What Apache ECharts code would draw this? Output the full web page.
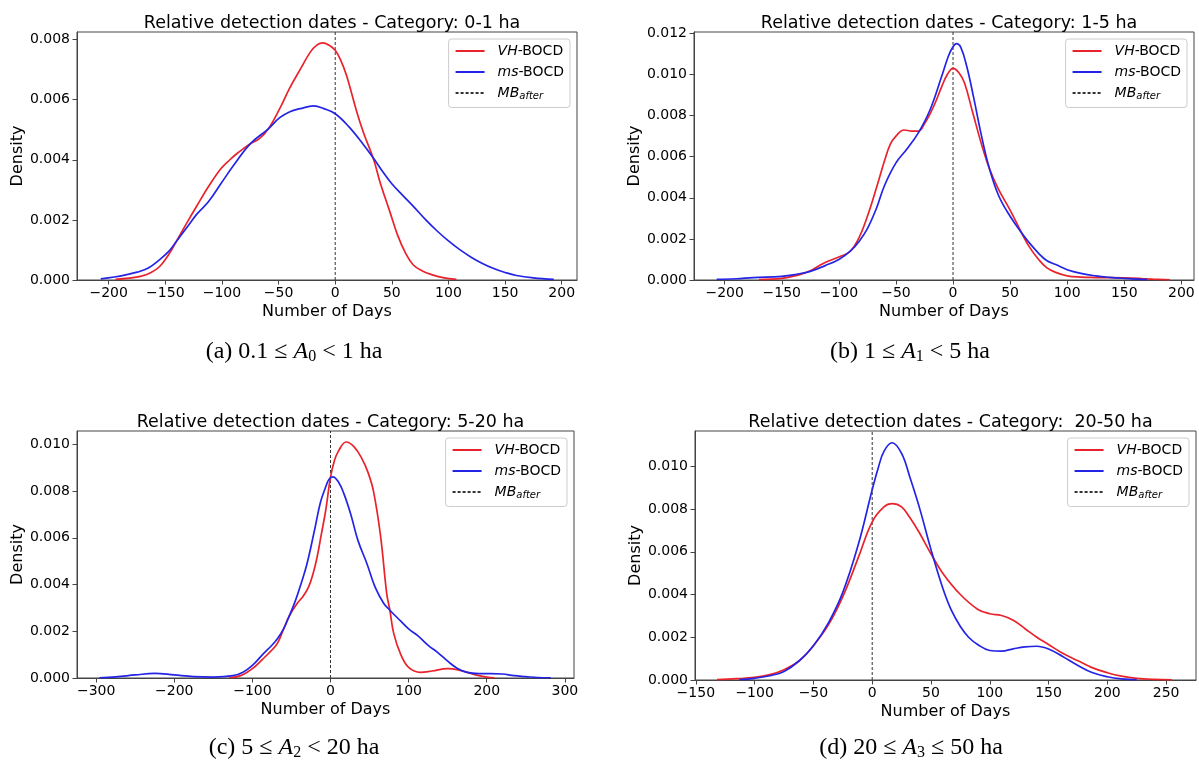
<!DOCTYPE html>
<html><head><meta charset="utf-8">
<script src="https://cdn.jsdelivr.net/npm/echarts@6/dist/echarts.min.js"></script>
<style>html,body{margin:0;padding:0;background:#fff}#c{width:1199px;height:760px}</style>
</head><body><div id="c"></div>
<script>
// ---------- DATA ----------
const titles = [
  'Relative detection dates - Category: 0-1 ha',
  'Relative detection dates - Category: 1-5 ha',
  'Relative detection dates - Category: 5-20 ha',
  'Relative detection dates - Category:  20-50 ha'
];
const captions = [
  '(a) 0.1 ≤ {i|A}{sub|0} < 1 ha',
  '(b) 1 ≤ {i|A}{sub|1} < 5 ha',
  '(c) 5 ≤ {i|A}{sub|2} < 20 ha',
  '(d) 20 ≤ {i|A}{sub|3} ≤ 50 ha'
];
const seriesNames = ['VH-BOCD', 'ms-BOCD', 'MB_after'];
const xLabel = 'Number of Days';
const yLabel = 'Density';

// x ticks
const xTicksA = [-200,-150,-100,-50,0,50,100,150,200];
const xTicksB = [-200,-150,-100,-50,0,50,100,150,200];
const xTicksC = [-300,-200,-100,0,100,200,300];
const xTicksD = [-150,-100,-50,0,50,100,150,200,250];
// y ticks
const yTicksA = [0,0.002,0.004,0.006,0.008];
const yTicksB = [0,0.002,0.004,0.006,0.008,0.010,0.012];
const yTicksC = [0,0.002,0.004,0.006,0.008,0.010];
const yTicksD = [0,0.002,0.004,0.006,0.008,0.010];

// Panel (a) 0-1 ha
const vhA = [[-194,0.00002],[-182,0.00006],[-172,0.00012],[-163,0.00024],[-155,0.00045],[-147,0.00085],[-140,0.0013],[-131,0.0019],[-122,0.00248],[-112,0.0031],[-101,0.0037],[-93,0.0040],[-87,0.0042],[-80,0.0044],[-75,0.00453],[-67,0.0047],[-59,0.00503],[-49,0.0057],[-40,0.0064],[-31,0.0070],[-22,0.00758],[-16,0.00782],[-11,0.00789],[-5,0.0078],[0,0.00764],[5,0.0073],[10,0.0068],[19,0.0056],[25,0.0049],[34,0.0040],[40,0.0032],[48,0.0023],[55,0.0015],[62,0.0009],[69,0.0005],[77,0.0003],[85,0.00018],[95,0.00008],[107,0.00002]];
const msA = [[-207,0.00004],[-195,0.00010],[-185,0.00017],[-175,0.00026],[-165,0.00040],[-155,0.00068],[-147,0.00095],[-140,0.0013],[-130,0.0018],[-122,0.0022],[-112,0.0026],[-101,0.0032],[-90,0.0038],[-75,0.00453],[-59,0.00503],[-49,0.0054],[-40,0.0056],[-31,0.0057],[-19,0.00579],[-10,0.0057],[0,0.00553],[12,0.0051],[25,0.0045],[34,0.00404],[42,0.0036],[50,0.0032],[60,0.0028],[69,0.00245],[80,0.0020],[90,0.00163],[100,0.0013],[110,0.00101],[120,0.00076],[130,0.00055],[140,0.00038],[150,0.00025],[160,0.00015],[175,0.00007],[193,0.00002]];

// Panel (b) 1-5 ha
const vhB = [[-170,0.00002],[-150,0.00008],[-135,0.00025],[-125,0.00045],[-117,0.0007],[-110,0.0009],[-100,0.00112],[-90,0.00140],[-82,0.0021],[-75,0.0031],[-67,0.0045],[-60,0.0058],[-55,0.0066],[-50,0.0070],[-43,0.0073],[-36,0.00725],[-30,0.00725],[-25,0.0076],[-20,0.0081],[-15,0.0087],[-10,0.0094],[-5,0.0100],[0,0.0103],[5,0.0101],[10,0.0096],[17,0.0082],[25,0.0066],[32,0.0054],[40,0.0044],[50,0.0034],[60,0.0023],[67,0.0016],[75,0.0010],[82,0.0006],[90,0.00037],[100,0.00020],[112,0.00014],[125,0.00012],[150,0.00010],[165,0.00007],[175,0.00004],[190,0.00001]];
const msB = [[-207,0.00003],[-190,0.00006],[-175,0.00012],[-150,0.00018],[-137,0.00028],[-125,0.00042],[-112,0.0007],[-100,0.00100],[-90,0.0014],[-82,0.0019],[-75,0.0025],[-67,0.0035],[-60,0.0046],[-50,0.0057],[-40,0.0064],[-30,0.0072],[-20,0.0083],[-10,0.0099],[-4,0.0109],[0,0.01135],[3,0.0115],[7,0.0113],[12,0.0104],[18,0.0089],[25,0.0070],[32,0.0054],[40,0.0041],[50,0.0031],[60,0.0023],[67,0.0018],[75,0.0013],[82,0.00095],[90,0.00075],[100,0.00050],[112,0.00032],[125,0.00020],[137,0.00013],[150,0.00008],[170,0.00002]];

// Panel (c) 5-20 ha
const vhC = [[-130,0.00001],[-115,0.0001],[-100,0.0004],[-87,0.0008],[-75,0.0012],[-68,0.00148],[-60,0.0021],[-53,0.00264],[-43,0.00318],[-35,0.0035],[-28,0.0039],[-22,0.0045],[-17,0.0052],[-12,0.0061],[-6,0.0072],[0,0.0086],[5,0.0093],[10,0.0097],[20,0.0101],[30,0.0099],[40,0.0094],[48,0.0088],[55,0.0080],[64,0.0061],[72,0.0036],[76,0.0029],[81,0.0019],[90,0.0010],[100,0.00045],[115,0.00024],[130,0.00030],[150,0.00040],[162,0.00036],[175,0.00024],[190,0.00010],[200,0.00004],[210,0.00001]];
const msC = [[-296,0.00001],[-275,0.00005],[-250,0.00013],[-225,0.00020],[-200,0.00013],[-175,0.00006],[-150,0.00004],[-125,0.00010],[-112,0.00025],[-100,0.00054],[-87,0.0010],[-75,0.0014],[-68,0.00168],[-60,0.0021],[-53,0.00264],[-45,0.0033],[-38,0.0040],[-30,0.0049],[-20,0.0064],[-13,0.0075],[-7,0.0081],[-2,0.0085],[3,0.00861],[10,0.0084],[17,0.0079],[26,0.0070],[35,0.0059],[47,0.00486],[57,0.0039],[68,0.0032],[76,0.0029],[90,0.00243],[100,0.0021],[112,0.0018],[125,0.0014],[137,0.0011],[150,0.00072],[162,0.00042],[175,0.00024],[190,0.00019],[205,0.00019],[220,0.00017],[235,0.00010],[250,0.00006],[265,0.00002],[282,0.00001]];

// Panel (d) 20-50 ha
const vhD = [[-132,0.00002],[-115,0.00006],[-100,0.00012],[-87,0.00025],[-75,0.00048],[-62,0.0009],[-50,0.0016],[-37,0.0026],[-25,0.0039],[-12,0.0057],[0,0.0074],[10,0.0081],[17,0.00825],[25,0.0081],[32,0.0076],[40,0.0069],[50,0.0059],[60,0.0050],[75,0.0040],[90,0.0033],[100,0.0031],[110,0.00302],[120,0.0028],[130,0.0024],[140,0.0020],[150,0.00166],[162,0.00125],[175,0.0009],[187,0.00058],[200,0.00034],[212,0.00018],[225,0.00008],[240,0.00003],[255,0.00001]];
const msD = [[-113,0.00002],[-100,0.00008],[-87,0.0002],[-75,0.0004],[-62,0.0009],[-50,0.0016],[-37,0.0027],[-25,0.0041],[-12,0.0063],[0,0.0089],[5,0.0099],[10,0.0107],[17,0.0111],[25,0.0106],[32,0.0095],[40,0.0081],[50,0.0061],[60,0.0043],[67,0.0033],[75,0.0025],[82,0.0020],[90,0.00165],[100,0.00138],[110,0.00135],[120,0.00146],[130,0.00155],[140,0.00158],[150,0.00145],[162,0.0011],[175,0.00068],[187,0.00035],[200,0.00015],[212,0.00005],[225,0.00001]];

// ---------- LAYOUT ----------
const panels = [
  {vh: vhA, ms: msA, xt: xTicksA, yt: yTicksA, xmin: -228.0, xmax: 213.5, ymax: 0.00825, grid: {left: 77, top: 32, width: 500, height: 248}, cap: [294, 352]},
  {vh: vhB, ms: msB, xt: xTicksB, yt: yTicksB, xmin: -226.9, xmax: 211.1, ymax: 0.01207, grid: {left: 694, top: 32, width: 500, height: 248}, cap: [910, 352]},
  {vh: vhC, ms: msC, xt: xTicksC, yt: yTicksC, xmin: -324.5, xmax: 311.7, ymax: 0.01057, grid: {left: 77, top: 431, width: 497, height: 247}, cap: [294, 748]},
  {vh: vhD, ms: msD, xt: xTicksD, yt: yTicksD, xmin: -150.7, xmax: 275.4, ymax: 0.01165, grid: {left: 695, top: 431, width: 501, height: 249}, cap: [911, 748]}
];

const RED = '#e8232b', BLUE = '#2424e6', DASH = '#333';
const fmtX = v => v < 0 ? '\u2212' + Math.abs(v) : String(v);
const legendFmt = {'VH-BOCD': '{i|VH}-BOCD', 'ms-BOCD': '{i|ms}-BOCD', 'MB_after': '{i|MB}{sub|after}'};

const option = {
  backgroundColor: '#fff',
  animation: false,
  textStyle: {fontFamily: 'DejaVu Sans'},
  title: [], grid: [], xAxis: [], yAxis: [], series: [], legend: [], graphic: []
};

panels.forEach((p, k) => {
  const g = p.grid;
  option.grid.push({left: g.left, top: g.top, width: g.width, height: g.height,
    show: true, borderColor: '#444', borderWidth: 1, backgroundColor: 'transparent', containLabel: false});
  option.title.push({text: titles[k], left: g.left + g.width / 2, textAlign: 'center', top: g.top - 23,
    textStyle: {fontFamily: 'DejaVu Sans', fontSize: 17.5, fontWeight: 'normal', color: '#000'}});
  option.xAxis.push({type: 'value', gridIndex: k, min: p.xmin, max: p.xmax,
    name: xLabel, nameLocation: 'middle', nameGap: 24,
    nameTextStyle: {fontFamily: 'DejaVu Sans', fontSize: 16, color: '#000'},
    axisLine: {show: true, onZero: false, lineStyle: {color: '#444', width: 1}},
    axisTick: {show: true, length: 4.5, lineStyle: {color: '#444'}, customValues: p.xt},
    axisLabel: {fontFamily: 'DejaVu Sans', fontSize: 14, color: '#000', margin: 6, formatter: fmtX, customValues: p.xt},
    splitLine: {show: false}});
  option.yAxis.push({type: 'value', gridIndex: k, min: 0, max: p.ymax,
    name: yLabel, nameLocation: 'middle', nameGap: 46, nameRotate: 90,
    nameTextStyle: {fontFamily: 'DejaVu Sans', fontSize: 16, color: '#000'},
    axisLine: {show: true, onZero: false, lineStyle: {color: '#444', width: 1}},
    axisTick: {show: true, length: 4.5, lineStyle: {color: '#444'}, customValues: p.yt},
    axisLabel: {fontFamily: 'DejaVu Sans', fontSize: 14, color: '#000', margin: 7, formatter: v => v.toFixed(3), customValues: p.yt},
    splitLine: {show: false}});
  option.series.push({name: seriesNames[0], type: 'line', xAxisIndex: k, yAxisIndex: k, data: p.vh,
    showSymbol: false, symbol: 'none', smooth: 0.4, color: RED, lineStyle: {color: RED, width: 1.7}, z: 3});
  option.series.push({name: seriesNames[1], type: 'line', xAxisIndex: k, yAxisIndex: k, data: p.ms,
    showSymbol: false, symbol: 'none', smooth: 0.4, color: BLUE, lineStyle: {color: BLUE, width: 1.7}, z: 4});
  option.series.push({name: seriesNames[2], type: 'line', xAxisIndex: k, yAxisIndex: k, data: [[0, 0], [0, p.ymax]],
    showSymbol: false, symbol: 'none', color: DASH, lineStyle: {color: DASH, width: 1, type: [3, 2]}, z: 2});
  option.legend.push({data: seriesNames, orient: 'vertical',
    right: 1199 - (g.left + g.width) + 7, top: g.top + 7,
    itemWidth: 29, itemHeight: 12, itemGap: 7,
    padding: [5, 6, 6, 6],
    itemStyle: {color: 'transparent', borderWidth: 0, opacity: 0},
    backgroundColor: 'rgba(255,255,255,0.8)', borderColor: '#ccc', borderWidth: 1, borderRadius: 3,
    selectedMode: false,
    formatter: n => legendFmt[n],
    textStyle: {fontFamily: 'DejaVu Sans', fontSize: 14, color: '#000', padding: [0, 0, 0, 8],
      rich: {i: {fontFamily: 'DejaVu Sans', fontSize: 14, fontStyle: 'italic', color: '#000'},
             sub: {fontFamily: 'DejaVu Sans', fontSize: 10, fontStyle: 'italic', color: '#000', padding: [7, 0, 0, 0]}}}});
  option.graphic.push({type: 'text', x: p.cap[0], y: p.cap[1],
    style: {text: captions[k], align: 'center', verticalAlign: 'middle',
      fontFamily: 'Liberation Serif', fontSize: 24, fill: '#000',
      rich: {i: {fontFamily: 'Liberation Serif', fontSize: 24, fontStyle: 'italic'},
             sub: {fontFamily: 'Liberation Serif', fontSize: 16, padding: [10, 0, 0, 0]}}}});
});

const chart = echarts.init(document.getElementById('c'), null, {renderer: 'canvas'});
chart.setOption(option);
</script></body></html>
